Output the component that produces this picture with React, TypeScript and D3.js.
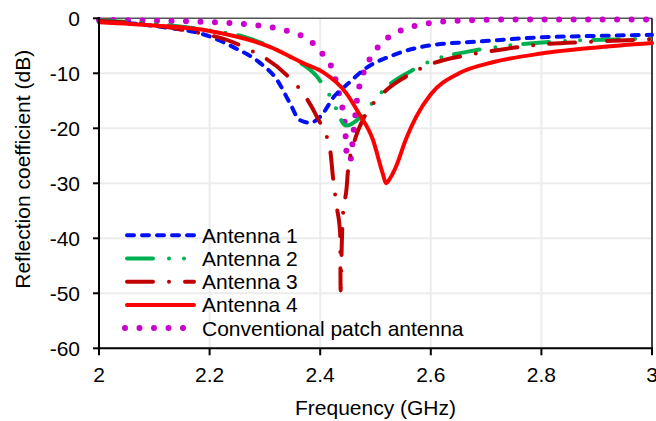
import React from "react";
import * as d3 from "d3";

// values (frequency in GHz, reflection in dB)
const freqA1 = [2.0, 2.1, 2.2, 2.242, 2.291, 2.322, 2.345, 2.363, 2.382, 2.4, 2.427, 2.448, 2.478, 2.532, 2.6, 2.69, 2.79, 2.9, 3.0];
const dbA1 = [-0.5, -1.4, -3.3, -5.2, -8.1, -11.2, -15.4, -18.5, -19.0, -17.9, -14.0, -12.1, -9.4, -6.7, -4.9, -4.2, -3.5, -3.2, -3.0];

const freqA2 = [2.0, 2.1, 2.2, 2.26, 2.303, 2.35, 2.394, 2.42, 2.447, 2.47, 2.488, 2.52, 2.562, 2.604, 2.665, 2.713, 2.82, 2.955, 3.0];
const dbA2 = [-0.4, -1.0, -2.2, -3.3, -4.85, -7.3, -10.6, -14.5, -19.5, -18.2, -16.1, -12.5, -9.7, -7.6, -6.1, -5.3, -4.25, -3.8, -3.7];

const freqA3 = [2.0, 2.152, 2.255, 2.339, 2.375, 2.394, 2.418, 2.423, 2.43, 2.436, 2.437, 2.439, 2.441, 2.448, 2.45, 2.463, 2.477, 2.514, 2.55, 2.604, 2.665, 2.713, 2.79, 2.893, 3.0];
const dbA3 = [-0.5, -2.1, -4.9, -10.3, -14.5, -17.9, -24.0, -28.8, -34.3, -39.0, -49.5, -41.0, -36.0, -30.6, -28.0, -22.0, -18.5, -13.6, -10.9, -8.2, -6.7, -5.9, -4.85, -4.25, -3.8];

const freqA4 = [2.0, 2.1, 2.2, 2.309, 2.37, 2.405, 2.447, 2.47, 2.495, 2.513, 2.519, 2.527, 2.537, 2.555, 2.573, 2.6, 2.651, 2.712, 2.8, 2.9, 3.0];
const dbA4 = [-0.7, -1.3, -2.3, -5.2, -8.2, -9.8, -13.6, -17.3, -22.0, -28.2, -30.0, -29.0, -27.0, -22.0, -18.0, -13.8, -10.0, -8.0, -6.4, -5.3, -4.5];

const freqConv = [2.0, 2.228, 2.279, 2.33, 2.354, 2.378, 2.396, 2.412, 2.424, 2.43, 2.436, 2.442, 2.445, 2.448, 2.454, 2.46, 2.463, 2.465, 2.469, 2.475, 2.484, 2.496, 2.512, 2.532, 2.556, 2.58, 2.604, 2.658, 2.75, 3.0];
const dbConv = [-0.3, -0.8, -1.2, -2.0, -2.7, -3.8, -5.5, -7.6, -9.7, -12.1, -14.5, -17.3, -19.7, -24.8, -26.0, -20.9, -18.2, -16.1, -13.3, -10.9, -8.5, -6.4, -4.4, -2.9, -1.8, -1.2, -0.8, -0.4, -0.2, -0.2];

const seriesNames = ["Antenna 1", "Antenna 2", "Antenna 3", "Antenna 4", "Conventional patch antenna"];
const xTicks = [2, 2.2, 2.4, 2.6, 2.8, 3];
const yTicks = [0, -10, -20, -30, -40, -50, -60];

const styles = [
  { color: "#0010f5", width: 4, dash: "7 8" },
  { color: "#00b050", width: 4, dash: "26 16 0 15 0 13" },
  { color: "#c00000", width: 4, dash: "26 16 0 16" },
  { color: "#ff0000", width: 4, dash: "" },
  { color: "#cc00cc", width: 6, dash: "0 14.5" },
];

const font = "'Liberation Sans', Arial, sans-serif";
const fs = 21;

export default function App() {
  const width = 656;
  const height = 421;
  const margin = { top: 18.3, right: 4, bottom: 72.7, left: 99 };

  const x = d3.scaleLinear().domain([2, 3]).range([margin.left, width - margin.right]);
  const y = d3.scaleLinear().domain([-60, 0]).range([height - margin.bottom, margin.top]);

  const data = [
    [freqA1, dbA1],
    [freqA2, dbA2],
    [freqA3, dbA3],
    [freqA4, dbA4],
    [freqConv, dbConv],
  ];

  const line = d3
    .line<[number, number]>()
    .x((d) => x(d[0]))
    .y((d) => y(d[1]))
    .curve(d3.curveMonotoneX);

  const paths = data.map(([f, v]) => line(f.map((fv, i) => [fv, v[i]] as [number, number])) || "");

  // magenta first so the antennas sit on top of its dots
  const drawOrder = [4, 0, 1, 2, 3];

  const x0 = x(2);
  const x1 = x(3);
  const y0 = y(-60);
  const y1 = y(0);

  return (
    <svg width={width} height={height} style={{ position: "absolute", left: 0, top: 0, background: "#fff" }}>
      {/* grid */}
      {xTicks.slice(1, -1).map((t) => (
        <line key={"gx" + t} x1={x(t)} x2={x(t)} y1={y1} y2={y0} stroke="#ececec" strokeWidth={2} />
      ))}
      {yTicks.slice(1, -1).map((t) => (
        <line key={"gy" + t} x1={x0} x2={x1} y1={y(t)} y2={y(t)} stroke="#ececec" strokeWidth={2} />
      ))}

      {/* frame */}
      <line x1={x0} x2={x1} y1={y1} y2={y1} stroke="#555" strokeWidth={1.5} />
      <line x1={x1} x2={x1} y1={y1} y2={y0} stroke="#000" strokeWidth={1.5} />

      {/* curves */}
      {drawOrder.map((i) => (
        <path
          key={"s" + i}
          d={paths[i]}
          fill="none"
          stroke={styles[i].color}
          strokeWidth={styles[i].width}
          strokeDasharray={styles[i].dash || undefined}
          strokeLinecap="round"
          strokeLinejoin="round"
        />
      ))}

      {/* axes */}
      <line x1={x0} x2={x0} y1={y1 - 1} y2={y0 + 1} stroke="#000" strokeWidth={2} />
      <line x1={x0 - 1} x2={x1 + 1} y1={y0} y2={y0} stroke="#000" strokeWidth={2} />
      {yTicks.map((t) => (
        <g key={"ty" + t}>
          <line x1={x0 - 6} x2={x0} y1={y(t)} y2={y(t)} stroke="#000" strokeWidth={2} />
          <text x={x0 - 19} y={y(t) + 7.5} textAnchor="end" fontFamily={font} fontSize={fs} fill="#000">
            {t}
          </text>
        </g>
      ))}
      {xTicks.map((t) => (
        <g key={"tx" + t}>
          <line x1={x(t)} x2={x(t)} y1={y0} y2={y0 + 7} stroke="#000" strokeWidth={2} />
          <text x={x(t)} y={y0 + 34} textAnchor="middle" fontFamily={font} fontSize={fs} fill="#000">
            {d3.format("")(t)}
          </text>
        </g>
      ))}

      <text x={(x0 + x1) / 2} y={415} textAnchor="middle" fontFamily={font} fontSize={fs} fill="#000">
        Frequency (GHz)
      </text>
      <text
        transform={`translate(30,${(y0 + y1) / 2 - 14}) rotate(-90)`}
        textAnchor="middle"
        fontFamily={font}
        fontSize={fs}
        fill="#000"
      >
        Reflection coefficient (dB)
      </text>

      {/* legend */}
      {seriesNames.map((name, i) => {
        const ly = 235.3 + i * 23.2;
        const isDots = i === 4;
        return (
          <g key={"lg" + i}>
            <line
              x1={isDots ? 125 : 127}
              x2={isDots ? 190 : 194}
              y1={ly}
              y2={ly}
              stroke={styles[i].color}
              strokeWidth={styles[i].width}
              strokeDasharray={styles[i].dash || undefined}
              strokeLinecap="round"
            />
            <text x={202} y={ly + 7.5} fontFamily={font} fontSize={fs} fill="#000">
              {name}
            </text>
          </g>
        );
      })}
    </svg>
  );
}
